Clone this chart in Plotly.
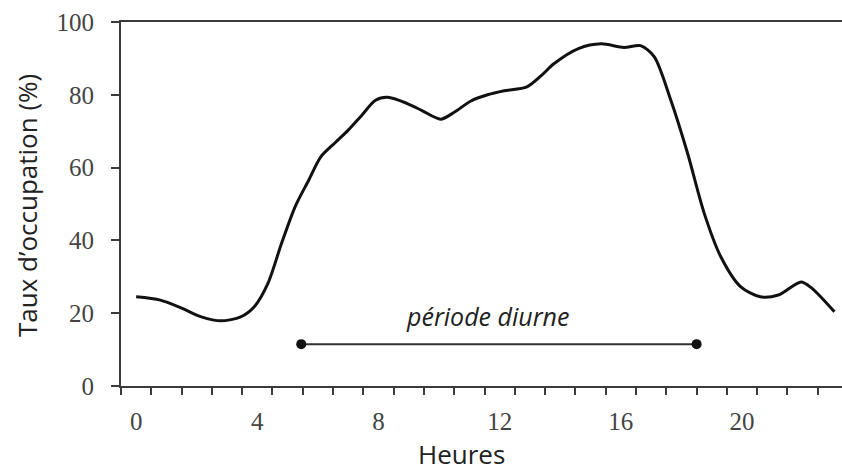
import plotly.graph_objects as go

hours = [0, 0.8, 1.5, 2.15, 2.8, 3.45, 3.9, 4.35, 4.8, 5.25, 5.7, 6.1, 6.55, 7.0, 7.45, 7.9, 8.3, 8.95, 9.45,
         10.05, 10.5, 11.05, 11.6, 12.15, 12.9, 13.4, 13.8, 14.6, 15.35, 16.1, 16.65, 17.1, 17.65, 18.2,
         18.75, 19.3, 19.95, 20.6, 21.2, 21.95, 22.3, 23.05]
occupation = [24.5, 23.6, 21.4, 19.0, 17.9, 19.0, 21.8, 28.2, 39.2, 49.3, 56.6, 63.0, 66.7, 70.3, 74.4, 78.5,
              79.3, 77.6, 75.6, 73.3, 75.2, 78.3, 80.0, 81.1, 82.2, 85.5, 88.6, 92.7, 94.0, 93.0, 93.5, 90.5,
              78.5, 64.0, 47.5, 35.5, 27.3, 24.5, 25.0, 28.6, 26.9, 20.4]

day_start, day_end, day_level = 5.45, 18.5, 11.5
day_label = "période diurne"
x_title = "Heures"
y_title = "Taux d’occupation (%)"

x_ticks = [0, 4, 8, 12, 16, 20]
x_minor = [h + 0.5 for h in range(-1, 23)]
y_ticks = [0, 20, 40, 60, 80, 100]

axis_col = "#3a3a3a"
serif = "Times New Roman, Liberation Serif, DejaVu Serif, serif"
sans = "Open Sans"
fig = go.Figure()
fig.add_trace(go.Scatter(x=hours, y=occupation, mode="lines",
                         line=dict(color="#111111", width=3, shape="spline", smoothing=0.8),
                         hoverinfo="skip"))
fig.add_trace(go.Scatter(x=[day_start, day_end], y=[day_level, day_level], mode="lines+markers",
                         line=dict(color="#333333", width=2), marker=dict(size=10, color="#111111"),
                         hoverinfo="skip"))
fig.add_annotation(x=11.6, y=day_level, yshift=28, text=day_label, showarrow=False,
                   font=dict(family=sans, size=25, color="#222222", style="italic"),
                   xanchor="center", yanchor="middle")
fig.add_annotation(xref="paper", yref="paper", x=0.4716, y=0, yshift=-68, text=x_title,
                   showarrow=False, font=dict(family=sans, size=26, color="#222222"),
                   xanchor="center", yanchor="middle")
fig.add_annotation(xref="paper", yref="paper", x=0, y=0.5, xshift=-94, yshift=-2, text=y_title,
                   textangle=-90, showarrow=False, font=dict(family=sans, size=26, color="#222222"),
                   xanchor="center", yanchor="middle")
fig.update_layout(width=842, height=474, margin=dict(l=121, r=0, t=22, b=88),
                  paper_bgcolor="white", plot_bgcolor="white", showlegend=False)
fig.update_xaxes(range=[-0.5, 23.3], showline=True, linecolor=axis_col, linewidth=2, mirror=True,
                 tickvals=x_ticks, ticks="outside", ticklen=0, showgrid=False, zeroline=False,
                 tickfont=dict(family=serif, size=25, color="#444444"),
                 ticklabelstandoff=12,
                 minor=dict(tickvals=x_minor, ticks="outside", ticklen=7, tickcolor=axis_col,
                            tickwidth=2, showgrid=False))
fig.update_yaxes(range=[0, 100], showline=True, linecolor=axis_col, linewidth=2,
                 tickvals=y_ticks, ticks="outside", ticklen=8, tickcolor=axis_col, tickwidth=2,
                 showgrid=False, zeroline=False,
                 tickfont=dict(family=serif, size=25, color="#444444"),
                 ticklabelstandoff=12)
fig.write_html("out.html", config={"displayModeBar": False},
               post_script="document.body.style.margin='0';")
